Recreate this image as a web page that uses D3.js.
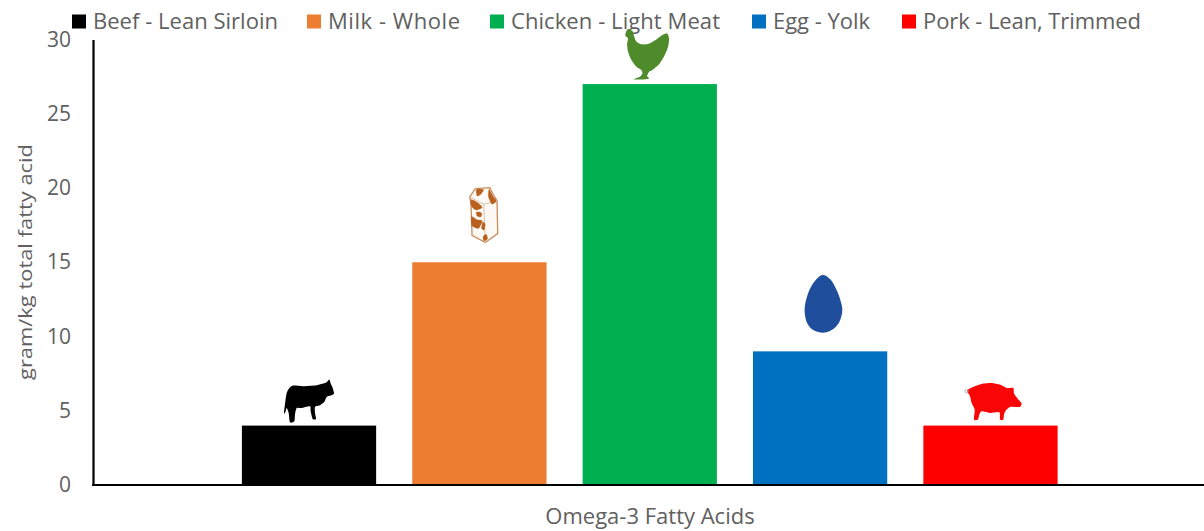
<!DOCTYPE html>
<html>
<head>
<meta charset="utf-8">
<script src="https://cdn.jsdelivr.net/npm/d3@7"></script>
<style>
  html, body { margin: 0; padding: 0; background: #fff; overflow: hidden; }
  text { font-family: "Open Sans", sans-serif; fill: #606060; }
</style>
</head>
<body>
<svg id="chart" width="1204" height="531"></svg>
<script>
// DATA
const categories = ['Beef - Lean Sirloin', 'Milk - Whole', 'Chicken - Light Meat', 'Egg - Yolk', 'Pork - Lean, Trimmed'];
const values = [4, 15, 27, 9, 4];
const colors = ['#000000', '#ed7d31', '#00b050', '#0070c0', '#ff0000'];
const yTicks = [0, 5, 10, 15, 20, 25, 30];
const yTitle = 'gram/kg total fatty acid';
const xTitle = 'Omega-3 Fatty Acids';

// LEGEND LAYOUT (swatch start, text end)
const legendStarts = [72, 307, 490, 752, 902];
const legendEnds = [278, 460, 720, 870, 1141];

// ICON OUTLINES, traced at 3 units per px. Origin is where the bar centre meets the bar top.
const cow = { origin: [147, 168], shape: [[88,55],[100,48],[130,50],[170,47],[190,42],[200,38],[208,30],[212,42],[218,55],[222,72],[212,78],[200,82],[192,98],[178,108],[165,112],[165,130],[168,148],[158,148],[152,125],[150,110],[125,115],[110,115],[105,135],[103,155],[90,158],[86,130],[80,115],[76,128],[72,130],[76,95],[80,70]] };
const chicken = { origin: [120, 192], shape: [[55,27],[68,33],[72,45],[78,62],[92,72],[115,72],[140,58],[158,45],[172,40],[178,55],[175,80],[165,105],[150,130],[130,148],[118,155],[112,168],[118,175],[100,178],[72,178],[90,170],[98,160],[95,150],[80,140],[65,120],[55,95],[52,72],[55,55],[47,48],[48,38]] };
const egg = { origin: [91.5, 261], shape: [[100,32],[122,45],[140,75],[153,110],[158,140],[148,175],[125,198],[100,205],[72,198],[52,175],[45,140],[50,105],[62,72],[80,45]] };
const pig = { origin: [121.5, 168], shape: [[52,62],[75,50],[100,42],[125,40],[150,45],[170,55],[190,55],[192,72],[205,90],[215,102],[210,112],[195,112],[180,112],[168,122],[162,135],[160,150],[150,150],[148,128],[120,130],[95,125],[88,135],[84,150],[72,150],[74,120],[65,100],[60,80]] };
const carton = {
  origin: [87, 246],
  shape: [[75,25],[118,22],[130,45],[140,62],[142,160],[105,187],[65,165],[62,75],[58,50]],
  folds: [[[58,50],[100,72],[105,187]], [[100,72],[140,62]]],
  spots: [
    [[78,28],[100,28],[92,42],[80,48]],
    [[116,26],[128,48],[138,62],[125,72],[114,50]],
    [[62,58],[84,68],[96,82],[78,90],[63,78]],
    [[63,108],[80,118],[96,122],[84,145],[64,136]],
    [[78,95],[94,98],[92,110],[80,108]],
    [[97,125],[105,132],[101,150],[93,144]],
    [[98,168],[108,162],[112,176],[100,182]]
  ]
};

// SETUP
const svg = d3.select('#chart');

const x = d3.scaleBand()
  .domain(categories)
  .range([224, 1075.5])
  .paddingInner(0.212)
  .paddingOuter(0.105);

const y = d3.scaleLinear()
  .domain([0, 30])
  .range([485, 39.5]);

// BARS
svg.selectAll('.bar')
  .data(categories)
  .enter()
  .append('rect')
  .attr('class', 'bar')
  .attr('x', d => x(d))
  .attr('y', (d, i) => y(values[i]))
  .attr('width', x.bandwidth())
  .attr('height', (d, i) => y(0) - y(values[i]))
  .attr('fill', (d, i) => colors[i]);

// AXES
const yAxis = svg.append('g')
  .attr('class', 'axis axis--y')
  .attr('transform', 'translate(93,0)')
  .call(d3.axisLeft(y).tickValues(yTicks).tickSize(0).tickPadding(22));
yAxis.select('.domain').attr('stroke', '#000').attr('stroke-width', 2.2);
yAxis.selectAll('text').style('font-size', '21px');

svg.append('line')
  .attr('x1', 92)
  .attr('x2', 1204)
  .attr('y1', y(0))
  .attr('y2', y(0))
  .attr('stroke', '#000')
  .attr('stroke-width', 2.2);

svg.append('text')
  .attr('transform', 'translate(32,380)rotate(-90)')
  .attr('textLength', 236)
  .attr('lengthAdjust', 'spacingAndGlyphs')
  .style('font-size', '18.5px')
  .text(yTitle);

svg.append('text')
  .attr('x', 650)
  .attr('y', 524)
  .attr('text-anchor', 'middle')
  .style('font-size', '22px')
  .text(xTitle);

// LEGEND
categories.forEach((c, i) => {
  svg.append('rect')
    .attr('x', legendStarts[i])
    .attr('y', 14.5)
    .attr('width', 14)
    .attr('height', 14)
    .attr('fill', colors[i]);
  svg.append('text')
    .attr('x', legendStarts[i] + 21)
    .attr('y', 29)
    .attr('textLength', legendEnds[i] - legendStarts[i] - 21)
    .style('font-size', '22px')
    .text(c);
});

// ICONS
const smooth = d3.line().curve(d3.curveCardinalClosed.tension(0.3));
const iconAt = (i, icon) => svg.append('g')
  .attr('transform', `translate(${x(categories[i]) + x.bandwidth() / 2},${y(values[i])}) scale(${1 / 3}) translate(${-icon.origin[0]},${-icon.origin[1]})`);

iconAt(0, cow).append('path').attr('d', smooth(cow.shape)).attr('fill', '#000');

const cartonIcon = iconAt(1, carton);
cartonIcon.append('path')
  .attr('d', d3.line().curve(d3.curveLinearClosed)(carton.shape))
  .attr('fill', '#fdfaf6')
  .attr('stroke', '#c98d5e')
  .attr('stroke-width', 4);
cartonIcon.selectAll('.fold')
  .data(carton.folds)
  .enter()
  .append('path')
  .attr('class', 'fold')
  .attr('d', d3.line())
  .attr('fill', 'none')
  .attr('stroke', '#dcc0aa')
  .attr('stroke-width', 3);
cartonIcon.selectAll('.spot')
  .data(carton.spots)
  .enter()
  .append('path')
  .attr('class', 'spot')
  .attr('d', d => smooth(d))
  .attr('fill', '#b9601f');

iconAt(2, chicken).append('path').attr('d', smooth(chicken.shape)).attr('fill', '#4f8a2b');
iconAt(3, egg)
  .append('path')
  .attr('d', d3.line().curve(d3.curveCardinalClosed.tension(0))(egg.shape))
  .attr('fill', '#1f4e9c');

const pigIcon = iconAt(4, pig);
pigIcon.append('path').attr('d', smooth(pig.shape)).attr('fill', '#fa0505');
pigIcon.append('circle')
  .attr('cx', 50)
  .attr('cy', 65)
  .attr('r', 5)
  .attr('fill', 'none')
  .attr('stroke', '#b09a9a')
  .attr('stroke-width', 2.5);
</script>
</body>
</html>
